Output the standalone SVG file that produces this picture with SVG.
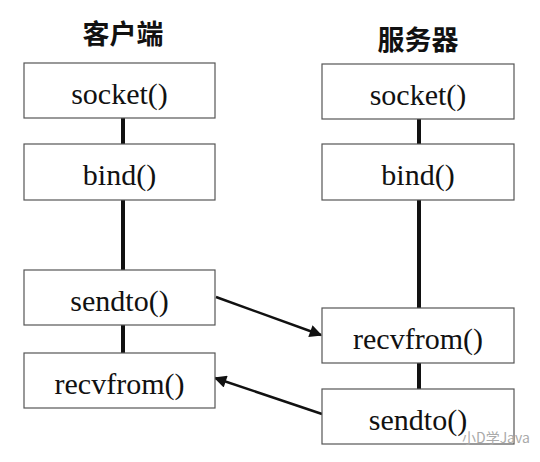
<svg xmlns="http://www.w3.org/2000/svg" width="540" height="462" viewBox="0 0 540 462">
<style>
.box{fill:#fff;stroke:#555;stroke-width:1.2}
.lbl{font-family:"Liberation Serif",serif;font-size:30px;fill:#111;text-anchor:middle}
.ttl{font-family:"Noto Sans CJK SC",sans-serif;font-weight:bold;font-size:27px;fill:#111;text-anchor:middle}
.life{stroke:#111;stroke-width:4}
.msg{stroke:#111;stroke-width:2.5;fill:none;marker-end:url(#ah)}
</style>
<defs>
<marker id="ah" viewBox="0 0 10 10" refX="9" refY="5" markerWidth="7" markerHeight="5" markerUnits="strokeWidth" orient="auto">
<path d="M0,0 L10,5 L0,10 z" fill="#111"/>
</marker>
</defs>
<rect width="540" height="462" fill="#fff"/>
<text class="ttl" x="123" y="44">客户端</text>
<text class="ttl" x="418" y="50">服务器</text>
<g id="connectors">
<line class="life" x1="123" y1="118" x2="123" y2="144"/>
<line class="life" x1="123" y1="200" x2="123" y2="270"/>
<line class="life" x1="123" y1="325" x2="123" y2="353"/>
<line class="life" x1="419" y1="119" x2="419" y2="144"/>
<line class="life" x1="419" y1="200" x2="419" y2="308"/>
<line class="life" x1="419" y1="363" x2="419" y2="389"/>
<line class="msg" x1="216" y1="297" x2="321" y2="335"/>
<line class="msg" x1="322" y1="414" x2="215" y2="378"/>
</g>
<g id="c_socket"><rect class="box" x="24" y="63" width="191" height="55"/><text class="lbl" x="119.5" y="104">socket()</text></g>
<g id="c_bind"><rect class="box" x="24" y="144" width="191" height="56"/><text class="lbl" x="119.5" y="185">bind()</text></g>
<g id="c_sendto"><rect class="box" x="24" y="270" width="191" height="55"/><text class="lbl" x="119.5" y="311">sendto()</text></g>
<g id="c_recvfrom"><rect class="box" x="24" y="353" width="191" height="55"/><text class="lbl" x="119.5" y="394">recvfrom()</text></g>
<g id="s_socket"><rect class="box" x="322" y="64" width="192" height="55"/><text class="lbl" x="418" y="105">socket()</text></g>
<g id="s_bind"><rect class="box" x="322" y="144" width="192" height="56"/><text class="lbl" x="418" y="185">bind()</text></g>
<g id="s_recvfrom"><rect class="box" x="322" y="308" width="192" height="55"/><text class="lbl" x="418" y="349">recvfrom()</text></g>
<g id="s_sendto"><rect class="box" x="322" y="389" width="192" height="55"/><text class="lbl" x="418" y="430">sendto()</text></g>
<text x="462" y="443" font-family="Noto Sans CJK SC,sans-serif" font-size="14" fill="#aaa">小D学Java</text>
</svg>
